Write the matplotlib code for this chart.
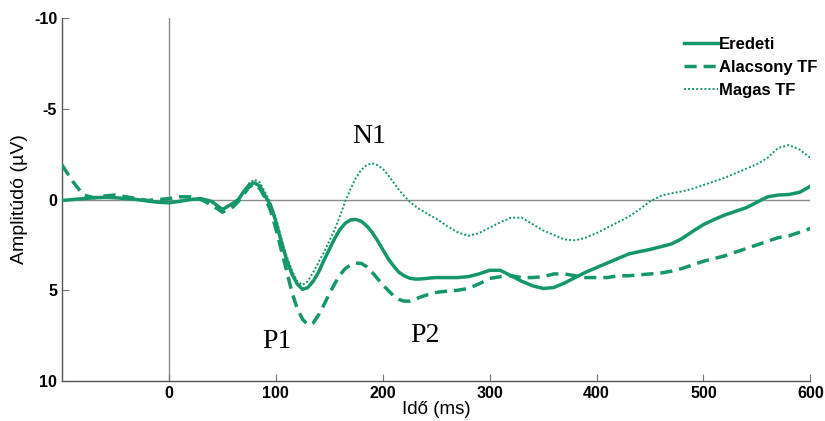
import matplotlib
matplotlib.use("Agg")
import matplotlib.pyplot as plt

plt.rcParams["axes.unicode_minus"] = False

# time axis (ms): 10 ms steps, 5 ms steps around the P1/N1/P2 complex
time_ms = list(range(-100, 60, 10)) + list(range(60, 260, 5)) + list(range(260, 601, 10))

# Eredeti (original), amplitude in microvolts
eredeti = [
    # -100 .. 50
    0.05, 0.0, -0.05, -0.1, -0.12, -0.1, -0.05, 0.0, 0.08, 0.15,
    0.18, 0.1, 0.0, -0.05, 0.1, 0.55,
    # 60 .. 255
    0.2, 0.0, -0.45, -0.8, -0.92, -0.75, -0.2, 0.3, 1.2, 2.3,
    3.3, 4.1, 4.65, 4.95, 4.85, 4.5, 4.0, 3.35, 2.75, 2.15,
    1.65, 1.3, 1.12, 1.1, 1.2, 1.45, 1.8, 2.25, 2.75, 3.25,
    3.65, 4.0, 4.2, 4.33, 4.38, 4.38, 4.35, 4.32, 4.3, 4.3,
    # 260 .. 600
    4.3, 4.3, 4.25, 4.1, 3.9, 3.9, 4.2, 4.5, 4.75, 4.9,
    4.85, 4.6, 4.3, 4.0, 3.75, 3.5, 3.25, 3.0, 2.87, 2.75,
    2.6, 2.45, 2.15, 1.75, 1.38, 1.1, 0.85, 0.65, 0.45, 0.15,
    -0.15, -0.25, -0.28, -0.4, -0.73,
]

# Alacsony TF (low-pass)
alacsony = [
    -1.9, -1.0, -0.25, -0.1, -0.2, -0.25, -0.15, -0.05, 0.05, 0.0,
    -0.05, -0.15, -0.15, 0.0, 0.3, 0.7,
    0.4, 0.1, -0.3, -0.7, -0.85, -0.6, -0.1, 0.6, 1.6, 2.75,
    3.9, 5.1, 6.0, 6.6, 6.9, 6.8, 6.35, 5.8, 5.2, 4.65,
    4.15, 3.8, 3.6, 3.5, 3.52, 3.7, 4.0, 4.35, 4.7, 5.0,
    5.3, 5.5, 5.6, 5.6, 5.5, 5.38, 5.28, 5.2, 5.12, 5.08,
    5.05, 5.0, 4.9, 4.65, 4.35, 4.25, 4.2, 4.3, 4.3, 4.25,
    4.1, 4.1, 4.2, 4.3, 4.3, 4.3, 4.2, 4.2, 4.15, 4.1,
    4.05, 3.95, 3.8, 3.6, 3.4, 3.25, 3.1, 2.9, 2.7, 2.5,
    2.3, 2.1, 2.0, 1.8, 1.6,
]

# Magas TF (high-pass)
magas = [
    0.05, 0.0, -0.05, -0.12, -0.15, -0.12, -0.05, 0.0, 0.05, 0.12,
    0.15, 0.05, -0.05, -0.05, 0.15, 0.5,
    0.2, -0.05, -0.45, -0.9, -1.1, -0.95, -0.4, 0.2, 1.0, 2.1,
    3.1, 3.9, 4.5, 4.7, 4.5, 4.0, 3.45, 2.9, 2.3, 1.65,
    0.9, 0.1, -0.6, -1.2, -1.65, -1.9, -2.0, -1.9, -1.7, -1.35,
    -0.95, -0.55, -0.2, 0.1, 0.35, 0.55, 0.72, 0.9, 1.05, 1.25,
    1.45, 1.8, 2.0, 1.85, 1.55, 1.25, 1.0, 1.0, 1.35, 1.7,
    1.95, 2.2, 2.25, 2.1, 1.85, 1.55, 1.25, 0.95, 0.55, 0.1,
    -0.2, -0.35, -0.45, -0.6, -0.8, -1.0, -1.2, -1.45, -1.7, -1.95,
    -2.3, -2.85, -3.0, -2.75, -2.3,
]

# component labels: (text, time, amplitude)
components = [("N1", 187, -3.5), ("P1", 101, 7.8), ("P2", 239, 7.5)]

green = "#15966b"

fig = plt.figure(figsize=(8.25, 4.21), dpi=100)
ax = fig.add_axes([0.0752, 0.095, 0.907, 0.862])

ax.axhline(0, color="#8a8a8a", lw=1.0, zorder=1)
ax.axvline(0, color="#8a8a8a", lw=1.0, zorder=1)

ax.plot(time_ms, eredeti, color=green, lw=2.5, ls="-", label="Eredeti", zorder=3)
ax.plot(time_ms, alacsony, color=green, lw=2.5, ls=(0, (3.5, 2)), label="Alacsony TF", zorder=3)
ax.plot(time_ms, magas, color=green, lw=1.4, ls=(0, (1, 1.1)), label="Magas TF", zorder=3)

for txt, tx, ty in components:
    ax.text(tx, ty, txt, family="Liberation Serif", fontsize=20, ha="center", va="center")

ax.set_xlim(-100, 600)
ax.set_ylim(10, -10)
ax.set_xticks([0, 100, 200, 300, 400, 500, 600])
ax.set_yticks([-10, -5, 0, 5, 10])

for side in ("top", "right"):
    ax.spines[side].set_visible(False)
for side in ("left", "bottom"):
    ax.spines[side].set_color("#555555")
    ax.spines[side].set_linewidth(1.0)

ax.tick_params(direction="in", length=5, color="#777777", labelsize=11.5)
for lab in ax.get_xticklabels() + ax.get_yticklabels():
    lab.set_fontweight("bold")
    lab.set_family("Liberation Sans")

ax.set_xlabel("Idő (ms)", family="Liberation Sans", fontsize=13.5, labelpad=0)
ax.set_ylabel("Amplitúdó (µV)", family="Liberation Sans", fontsize=14, labelpad=4)

leg = ax.legend(loc="upper left", bbox_to_anchor=(676 / 825, 1 - 29 / 421),
                bbox_transform=fig.transFigure, frameon=False, borderpad=0,
                handlelength=2.0, handletextpad=0.1, labelspacing=0.48,
                prop={"family": "Liberation Sans", "weight": "bold", "size": 12})

fig.savefig("out.png", dpi=100)
